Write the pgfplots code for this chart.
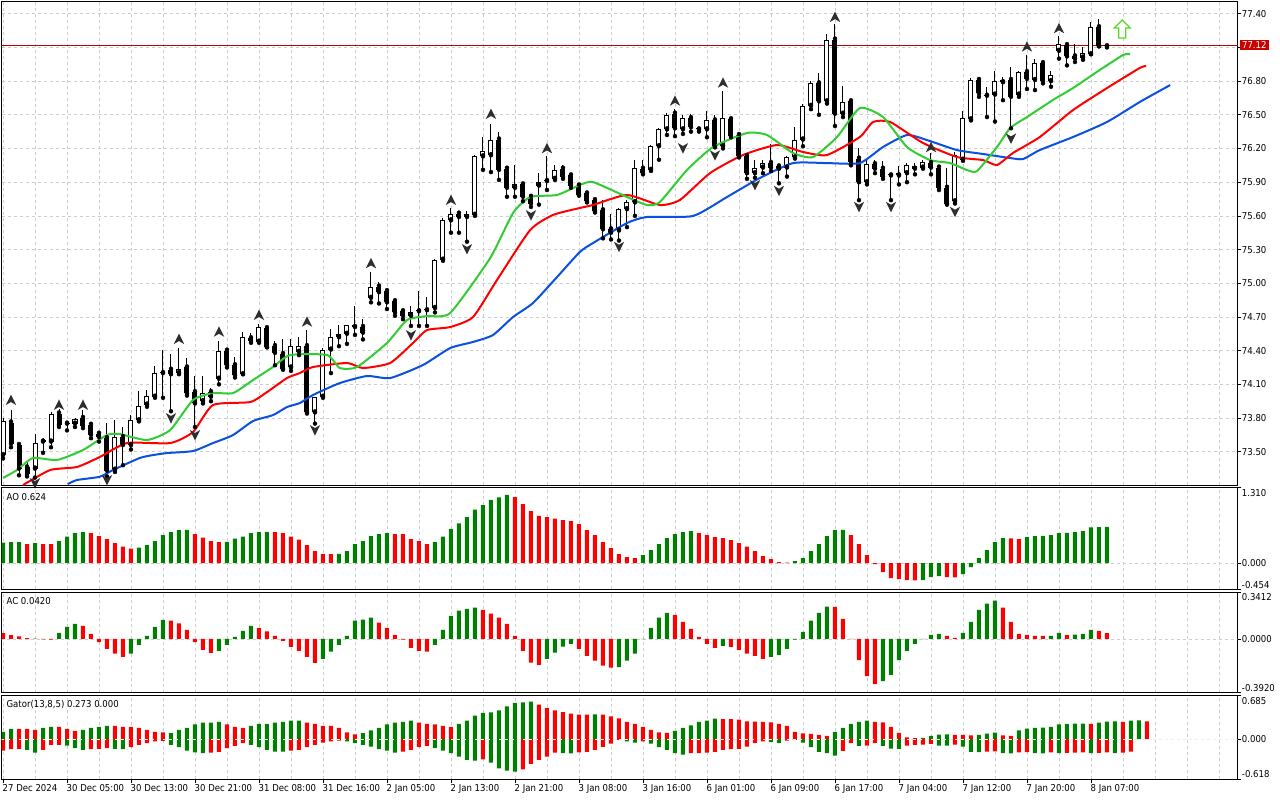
\documentclass[border=0pt]{standalone}
\usepackage{pgfplots}
\pgfplotsset{compat=1.18}
\usepackage{pgfplotstable}
\usepackage{fontspec}
\setmainfont{DejaVu Sans Condensed}
\definecolor{aored}{RGB}{255,0,0}
\definecolor{aogreen}{RGB}{0,128,0}
\definecolor{jawblue}{RGB}{10,80,225}
\definecolor{teethred}{RGB}{255,0,0}
\definecolor{lipsgreen}{RGB}{50,205,50}
\definecolor{gridgray}{RGB}{205,205,205}
\definecolor{bidred}{RGB}{190,0,0}
\definecolor{boxred}{RGB}{200,0,0}
\definecolor{arrowgreen}{RGB}{90,215,40}

\pgfdeclareplotmark{fup}{%
  \pgfpathmoveto{\pgfqpoint{0pt}{5.5pt}}%
  \pgfpathlineto{\pgfqpoint{5.2pt}{-5pt}}%
  \pgfpathlineto{\pgfqpoint{0pt}{-2pt}}%
  \pgfpathlineto{\pgfqpoint{-5.2pt}{-5pt}}%
  \pgfpathclose\pgfusepathqfill}
\pgfdeclareplotmark{fdn}{%
  \pgfpathmoveto{\pgfqpoint{0pt}{-5.5pt}}%
  \pgfpathlineto{\pgfqpoint{5.2pt}{5pt}}%
  \pgfpathlineto{\pgfqpoint{0pt}{2pt}}%
  \pgfpathlineto{\pgfqpoint{-5.2pt}{5pt}}%
  \pgfpathclose\pgfusepathqfill}
\pgfdeclareplotmark{sigup}{%
  \pgfpathmoveto{\pgfqpoint{0pt}{9pt}}%
  \pgfpathlineto{\pgfqpoint{8pt}{1pt}}%
  \pgfpathlineto{\pgfqpoint{3.5pt}{1pt}}%
  \pgfpathlineto{\pgfqpoint{3.5pt}{-9pt}}%
  \pgfpathlineto{\pgfqpoint{-3.5pt}{-9pt}}%
  \pgfpathlineto{\pgfqpoint{-3.5pt}{1pt}}%
  \pgfpathlineto{\pgfqpoint{-8pt}{1pt}}%
  \pgfpathclose\pgfusepathqfillstroke}

\pgfplotstableread{
i o h l c
0 73.47 73.80 73.44 73.77
1 73.76 73.87 73.54 73.57
2 73.56 73.58 73.29 73.35
3 73.36 73.41 73.28 73.30
4 73.35 73.66 73.27 73.58
5 73.59 73.62 73.49 73.60
6 73.59 73.85 73.54 73.84
7 73.84 73.88 73.72 73.74
8 73.75 73.77 73.69 73.75
9 73.75 73.80 73.72 73.79
10 73.80 73.87 73.71 73.73
11 73.74 73.75 73.62 73.65
12 73.66 73.68 73.59 73.63
13 73.62 73.76 73.28 73.33
14 73.34 73.78 73.32 73.63
15 73.63 73.72 73.38 73.56
16 73.56 73.83 73.52 73.78
17 73.78 74.04 73.77 73.91
18 73.92 74.05 73.90 74.00
19 73.99 74.26 73.98 74.20
20 74.20 74.41 73.98 74.21
21 74.23 74.37 73.86 74.19
22 74.20 74.42 74.19 74.24
23 74.25 74.33 74.00 74.02
24 74.03 74.17 73.72 73.93
25 73.95 74.17 73.93 74.02
26 74.03 74.07 73.95 73.99
27 74.15 74.49 74.10 74.40
28 74.40 74.41 74.25 74.27
29 74.27 74.34 74.16 74.18
30 74.19 74.57 74.19 74.52
31 74.51 74.56 74.47 74.49
32 74.48 74.64 74.47 74.61
33 74.60 74.61 74.43 74.43
34 74.44 74.49 74.27 74.38
35 74.37 74.50 74.23 74.24
36 74.25 74.50 74.22 74.44
37 74.39 74.52 74.36 74.44
38 74.44 74.58 73.84 73.85
39 73.85 73.99 73.75 73.99
40 73.99 74.42 73.98 74.41
41 74.41 74.59 74.20 74.52
42 74.52 74.63 74.44 74.55
43 74.55 74.63 74.46 74.63
44 74.61 74.80 74.54 74.63
45 74.61 74.68 74.50 74.56
46 74.87 75.10 74.83 74.97
47 74.97 75.01 74.82 74.92
48 74.93 74.94 74.77 74.83
49 74.84 74.85 74.71 74.74
50 74.75 74.76 74.68 74.71
51 74.71 74.80 74.62 74.74
52 74.75 74.93 74.62 74.76
53 74.76 74.88 74.62 74.77
54 74.78 75.22 74.74 75.21
55 75.21 75.58 75.20 75.56
56 75.56 75.67 75.45 75.62
57 75.62 75.64 75.45 75.59
58 75.59 75.64 75.37 75.62
59 75.61 76.14 75.60 76.13
60 76.13 76.30 76.01 76.18
61 76.14 76.42 75.99 76.28
62 76.28 76.35 75.92 76.01
63 76.02 76.03 75.77 75.85
64 75.85 76.05 75.77 75.88
65 75.88 75.89 75.73 75.77
66 75.77 75.78 75.68 75.71
67 75.87 75.98 75.70 75.90
68 75.91 76.13 75.83 75.92
69 75.93 76.05 75.92 76.01
70 76.02 76.05 75.93 75.95
71 75.96 75.98 75.85 75.87
72 75.87 75.89 75.78 75.79
73 75.80 75.82 75.72 75.73
74 75.74 75.76 75.63 75.64
75 75.65 75.74 75.40 75.48
76 75.48 75.62 75.39 75.45
77 75.47 75.67 75.38 75.66
78 75.66 75.74 75.50 75.72
79 75.72 76.10 75.60 76.03
80 76.02 76.10 75.97 75.98
81 76.01 76.23 76.00 76.22
82 76.22 76.38 76.10 76.37
83 76.37 76.52 76.32 76.50
84 76.51 76.55 76.31 76.38
85 76.37 76.50 76.33 76.47
86 76.47 76.51 76.35 76.39
87 76.37 76.39 76.35 76.37
88 76.37 76.53 76.30 76.45
89 76.45 76.50 76.21 76.22
90 76.22 76.71 76.20 76.47
91 76.46 76.47 76.30 76.31
92 76.32 76.34 76.12 76.13
93 76.13 76.14 75.93 75.98
94 75.98 76.10 75.94 76.03
95 76.03 76.10 75.98 76.07
96 76.07 76.24 76.00 76.03
97 76.04 76.06 75.89 76.02
98 76.03 76.13 75.95 76.12
99 76.12 76.39 76.11 76.28
100 76.28 76.60 76.22 76.58
101 76.58 76.80 76.55 76.78
102 76.78 76.87 76.50 76.62
103 76.62 77.22 76.60 77.17
104 77.17 77.31 76.40 76.51
105 76.51 76.76 76.48 76.61
106 76.62 76.63 76.05 76.08
107 76.11 76.20 75.74 75.90
108 75.90 76.11 75.88 76.06
109 76.06 76.10 75.98 76.02
110 76.02 76.09 75.93 75.95
111 75.96 75.97 75.74 75.96
112 75.96 76.04 75.88 75.98
113 75.98 76.07 75.90 76.05
114 76.02 76.07 75.97 76.04
115 76.03 76.10 76.02 76.08
116 76.07 76.16 75.97 76.03
117 76.03 76.04 75.83 75.85
118 75.85 76.03 75.70 75.71
119 75.73 76.17 75.71 76.14
120 76.10 76.53 76.09 76.47
121 76.46 76.83 76.45 76.81
122 76.81 76.83 76.66 76.69
123 76.67 76.75 76.48 76.67
124 76.68 76.89 76.44 76.80
125 76.79 76.84 76.63 76.81
126 76.81 76.93 76.38 76.66
127 76.68 76.89 76.66 76.88
128 76.88 77.03 76.73 76.82
129 76.81 77.00 76.72 76.96
130 76.96 76.98 76.78 76.80
131 76.80 76.89 76.75 76.85
132 77.07 77.20 77.00 77.13
133 77.12 77.12 76.94 77.02
134 77.02 77.13 76.97 77.00
135 77.01 77.10 76.99 77.05
136 77.04 77.33 77.04 77.28
137 77.28 77.35 77.11 77.11
138 77.11 77.13 77.10 77.12
}\candles

\pgfplotstableread{
x y
8.1 73.212
9.25 73.248
12.1 73.277
13.75 73.337
17.1 73.444
18.75 73.470
20.5 73.488
23.75 73.506
26.25 73.577
28.75 73.648
31.25 73.773
33.75 73.826
35.5 73.898
37.1 73.933
38.75 74.005
42.1 74.111
45.5 74.174
48.4 74.156
52.5 74.272
55.9 74.423
58.75 74.477
61.25 74.539
63.75 74.699
66.25 74.824
69.25 75.055
72.1 75.278
73.75 75.358
78 75.536
80.5 75.590
86.25 75.599
90.5 75.768
94.6 75.937
98.75 76.070
103 76.070
107.1 76.070
110 76.213
113 76.320
115.5 76.275
119.25 76.186
122.5 76.151
125.9 76.115
127.5 76.106
129.6 76.186
133.75 76.302
138 76.436
142.1 76.614
145.9 76.765
}\jaw

\pgfplotstableread{
x y
2.5 73.203
5.9 73.337
9.25 73.364
12.1 73.453
15.5 73.577
20.9 73.577
23.75 73.675
26.25 73.916
30.9 73.942
33 74.031
35.5 74.156
37.1 74.200
38.75 74.254
43 74.290
45 74.245
48.4 74.290
51.25 74.468
53 74.583
55.9 74.610
58.75 74.699
61.75 75.029
65.9 75.474
68.75 75.608
72.1 75.670
73.75 75.697
78 75.786
82.1 75.697
84.6 75.741
88.4 75.982
92.5 76.142
96.75 76.231
100 76.169
103 76.142
107.1 76.302
108.75 76.436
110.9 76.436
115 76.249
119.25 76.124
122.5 76.097
124.25 76.053
126.25 76.160
129.6 76.302
133.75 76.542
138 76.738
142.1 76.917
142.9 76.934
}\teeth

\pgfplotstableread{
x y
0 73.266
1.75 73.337
3.75 73.444
6.75 73.426
10 73.515
13 73.649
14.6 73.657
18 73.604
20.9 73.693
23.75 73.960
26.25 74.022
28.75 74.022
31.25 74.138
33.75 74.254
35.9 74.361
40.5 74.361
42.1 74.245
44.25 74.254
48 74.468
50.5 74.672
53 74.708
55.9 74.735
60.9 75.225
63.75 75.625
65.9 75.768
69.25 75.786
72.1 75.875
73.75 75.901
78 75.768
80.5 75.697
82.1 75.723
85.5 76.008
88.75 76.213
93 76.338
95.5 76.320
98.75 76.160
101.25 76.124
104.25 76.302
107.1 76.560
110 76.480
113 76.213
115.9 76.097
118.4 76.070
120.5 76.008
121.75 75.999
124.25 76.213
125.9 76.382
128 76.480
131.25 76.632
133.75 76.738
137.1 76.899
140 77.032
140.9 77.041
}\lips

\pgfplotstableread{
i y
1 73.960
7 73.916
10 73.916
22 74.503
27 74.568
32 74.717
38 74.657
46 75.177
56 75.741
61 76.507
68 76.201
84 76.625
90 76.785
104 77.370
116 76.210
128 77.106
132 77.270
}\fracup

\pgfplotstableread{
i y
4 73.221
13 73.248
21 73.800
24 73.649
39 73.693
51 74.539
58 75.305
66 75.607
77 75.325
85 76.204
89 76.140
94 75.875
97 75.824
107 75.681
111 75.681
119 75.637
126 76.290
}\fracdn

\pgfplotstableread{
i v c
0 0.352 1
1 0.364 1
2 0.364 1
3 0.329 0
4 0.346 1
5 0.329 0
6 0.329 0
7 0.381 1
8 0.456 1
9 0.519 1
10 0.537 1
11 0.519 0
12 0.467 0
13 0.415 0
14 0.346 0
15 0.283 0
16 0.248 0
17 0.265 1
18 0.312 1
19 0.381 1
20 0.485 1
21 0.537 1
22 0.571 1
23 0.573 1
24 0.502 0
25 0.438 0
26 0.381 0
27 0.364 0
28 0.366 1
29 0.421 1
30 0.456 1
31 0.519 1
32 0.537 1
33 0.539 1
34 0.537 0
35 0.519 0
36 0.456 0
37 0.404 0
38 0.312 0
39 0.208 0
40 0.156 0
41 0.155 0
42 0.157 1
43 0.208 1
44 0.329 1
45 0.381 1
46 0.467 1
47 0.502 1
48 0.519 1
49 0.502 0
50 0.500 0
51 0.415 0
52 0.381 0
53 0.329 0
54 0.364 1
55 0.456 1
56 0.589 1
57 0.687 1
58 0.796 1
59 0.923 1
60 1.004 1
61 1.091 1
62 1.137 1
63 1.177 1
64 1.142 0
65 1.021 0
66 0.900 0
67 0.814 0
68 0.796 0
69 0.767 0
70 0.744 0
71 0.727 0
72 0.675 0
73 0.571 0
74 0.485 0
75 0.364 0
76 0.260 0
77 0.156 0
78 0.104 0
79 0.087 0
80 0.138 1
81 0.225 1
82 0.329 1
83 0.433 1
84 0.502 1
85 0.537 1
86 0.554 1
87 0.519 0
88 0.485 0
89 0.450 0
90 0.433 0
91 0.398 0
92 0.346 0
93 0.283 0
94 0.208 0
95 0.121 0
96 0.069 0
97 0.017 0
98 0.006 0
99 0.035 1
100 0.087 1
101 0.208 1
102 0.329 1
103 0.467 1
104 0.571 1
105 0.573 1
106 0.485 0
107 0.329 0
108 0.138 0
109 -0.017 0
110 -0.156 0
111 -0.260 0
112 -0.277 0
113 -0.294 0
114 -0.300 0
115 -0.294 1
116 -0.242 1
117 -0.225 1
118 -0.242 0
119 -0.248 0
120 -0.190 1
121 -0.069 1
122 0.087 1
123 0.225 1
124 0.364 1
125 0.433 1
126 0.428 0
127 0.415 0
128 0.450 1
129 0.467 1
130 0.470 1
131 0.485 1
132 0.519 1
133 0.521 1
134 0.537 1
135 0.554 1
136 0.615 1
137 0.620 1
138 0.624 1
}\aodata

\pgfplotstableread{
i v c
0 0.041 0
1 0.027 0
2 0.019 0
3 0.005 0
4 0.002 1
5 -0.004 0
6 -0.005 0
7 0.044 1
8 0.088 1
9 0.110 1
10 0.095 0
11 0.037 0
12 -0.024 0
13 -0.073 0
14 -0.107 0
15 -0.132 0
16 -0.107 1
17 -0.044 1
18 0.022 1
19 0.088 1
20 0.139 1
21 0.132 0
22 0.112 0
23 0.066 0
24 -0.024 0
25 -0.080 0
26 -0.102 0
27 -0.088 1
28 -0.044 1
29 0.015 1
30 0.058 1
31 0.095 1
32 0.080 0
33 0.054 0
34 0.022 0
35 -0.015 0
36 -0.058 0
37 -0.088 0
38 -0.132 0
39 -0.175 0
40 -0.146 1
41 -0.093 1
42 -0.044 1
43 0.022 1
44 0.132 1
45 0.141 1
46 0.154 1
47 0.119 0
48 0.080 0
49 0.029 0
50 -0.005 0
51 -0.066 0
52 -0.088 0
53 -0.093 0
54 -0.044 1
55 0.066 1
56 0.168 1
57 0.205 1
58 0.219 1
59 0.227 1
60 0.212 0
61 0.183 0
62 0.154 0
63 0.110 0
64 0.022 0
65 -0.088 0
66 -0.173 0
67 -0.190 0
68 -0.146 1
69 -0.100 1
70 -0.056 1
71 -0.037 1
72 -0.073 0
73 -0.124 0
74 -0.158 0
75 -0.195 0
76 -0.210 0
77 -0.205 1
78 -0.158 1
79 -0.107 1
80 -0.002 1
81 0.080 1
82 0.154 1
83 0.190 1
84 0.175 0
85 0.124 0
86 0.073 0
87 0.015 0
88 -0.037 0
89 -0.066 0
90 -0.051 1
91 -0.058 0
92 -0.080 0
93 -0.107 0
94 -0.124 0
95 -0.146 0
96 -0.132 1
97 -0.117 1
98 -0.073 1
99 -0.005 1
100 0.051 1
101 0.132 1
102 0.190 1
103 0.234 1
104 0.233 0
105 0.146 0
106 -0.002 0
107 -0.154 0
108 -0.271 0
109 -0.329 0
110 -0.307 1
111 -0.263 1
112 -0.154 1
113 -0.088 1
114 -0.037 1
115 -0.002 1
116 0.029 1
117 0.037 1
118 0.022 0
119 0.007 0
120 0.044 1
121 0.124 1
122 0.212 1
123 0.256 1
124 0.278 1
125 0.227 0
126 0.124 0
127 0.037 0
128 0.029 0
129 0.022 0
130 0.021 0
131 0.022 1
132 0.044 1
133 0.029 0
134 0.030 1
135 0.037 1
136 0.066 1
137 0.058 0
138 0.042 0
}\acdata

\pgfplotstableread{
i v c
0 0.114 1
1 0.161 1
2 0.161 0
3 0.161 0
4 0.146 0
5 0.177 1
6 0.192 1
7 0.192 0
8 0.161 0
9 0.130 0
10 0.146 1
11 0.177 1
12 0.192 1
13 0.208 1
14 0.208 0
15 0.192 0
16 0.192 0
17 0.177 0
18 0.146 0
19 0.114 0
20 0.104 0
21 0.094 1
22 0.146 1
23 0.177 1
24 0.229 1
25 0.255 1
26 0.255 1
27 0.270 1
28 0.229 0
29 0.192 0
30 0.177 0
31 0.208 1
32 0.239 1
33 0.239 1
34 0.255 1
35 0.270 1
36 0.286 1
37 0.286 1
38 0.255 0
39 0.239 0
40 0.208 0
41 0.208 0
42 0.177 0
43 0.104 0
44 0.073 0
45 0.094 1
46 0.135 1
47 0.177 1
48 0.229 1
49 0.255 1
50 0.270 1
51 0.286 1
52 0.255 0
53 0.239 0
54 0.229 0
55 0.208 0
56 0.192 0
57 0.239 1
58 0.286 1
59 0.364 1
60 0.406 1
61 0.416 1
62 0.447 1
63 0.510 1
64 0.562 1
65 0.572 1
66 0.582 1
67 0.536 0
68 0.484 0
69 0.447 0
70 0.420 0
71 0.395 0
72 0.380 0
73 0.380 0
74 0.385 1
75 0.380 0
76 0.354 0
77 0.322 0
78 0.270 0
79 0.239 0
80 0.192 0
81 0.146 0
82 0.104 0
83 0.099 0
84 0.130 1
85 0.177 1
86 0.213 1
87 0.270 1
88 0.286 1
89 0.317 1
90 0.312 0
91 0.310 0
92 0.302 0
93 0.275 0
94 0.272 0
95 0.270 0
96 0.260 0
97 0.239 0
98 0.208 0
99 0.114 0
100 0.088 0
101 0.083 0
102 0.068 0
103 0.052 0
104 0.114 1
105 0.177 1
106 0.239 1
107 0.270 1
108 0.286 1
109 0.270 0
110 0.260 0
111 0.192 0
112 0.099 0
113 0.026 0
114 0.015 0
115 0.020 1
116 0.050 1
117 0.070 1
118 0.075 1
119 0.068 0
120 0.065 0
121 0.060 0
122 0.068 1
123 0.085 1
124 0.100 1
125 0.057 0
126 0.052 0
127 0.135 1
128 0.165 1
129 0.177 1
130 0.180 1
131 0.192 1
132 0.229 1
133 0.239 1
134 0.240 1
135 0.242 1
136 0.236 0
137 0.255 1
138 0.273 1
139 0.276 1
140 0.270 0
141 0.286 1
142 0.292 1
143 0.276 0
}\gup

\pgfplotstableread{
i v c
0 -0.177 0
1 -0.156 0
2 -0.151 0
3 -0.166 1
4 -0.208 1
5 -0.166 0
6 -0.088 0
7 -0.087 0
8 -0.099 1
9 -0.140 1
10 -0.166 1
11 -0.156 0
12 -0.151 0
13 -0.140 0
14 -0.151 1
15 -0.156 1
16 -0.125 0
17 -0.088 0
18 -0.062 0
19 -0.036 0
20 -0.026 0
21 -0.088 1
22 -0.125 1
23 -0.177 1
24 -0.203 1
25 -0.218 1
26 -0.208 0
27 -0.198 0
28 -0.140 0
29 -0.104 0
30 -0.062 0
31 -0.088 1
32 -0.125 1
33 -0.166 1
34 -0.192 1
35 -0.194 1
36 -0.177 0
37 -0.166 0
38 -0.125 0
39 -0.088 0
40 -0.052 0
41 -0.036 0
42 -0.021 0
43 -0.036 1
44 -0.062 1
45 -0.088 1
46 -0.114 1
47 -0.156 1
48 -0.177 1
49 -0.208 1
50 -0.192 0
51 -0.166 0
52 -0.125 0
53 -0.104 0
54 -0.140 1
55 -0.177 1
56 -0.218 1
57 -0.270 1
58 -0.322 1
59 -0.333 1
60 -0.312 0
61 -0.364 1
62 -0.452 1
63 -0.489 1
64 -0.504 1
65 -0.468 0
66 -0.385 0
67 -0.322 0
68 -0.270 0
69 -0.208 0
70 -0.218 1
71 -0.222 1
72 -0.203 0
73 -0.198 0
74 -0.166 0
75 -0.120 0
76 -0.068 0
77 -0.010 0
78 -0.036 1
79 -0.052 1
80 -0.036 0
81 -0.068 1
82 -0.125 1
83 -0.166 1
84 -0.218 1
85 -0.239 1
86 -0.218 0
87 -0.216 0
88 -0.208 0
89 -0.198 0
90 -0.166 0
91 -0.156 0
92 -0.150 0
93 -0.114 0
94 -0.062 0
95 -0.036 0
96 -0.042 1
97 -0.062 1
98 -0.021 0
99 -0.010 0
100 -0.052 1
101 -0.125 1
102 -0.198 1
103 -0.218 1
104 -0.255 1
105 -0.182 0
106 -0.062 0
107 -0.104 1
108 -0.099 0
109 -0.062 0
110 -0.104 1
111 -0.146 1
112 -0.150 1
113 -0.099 0
114 -0.088 0
115 -0.086 0
116 -0.073 0
117 -0.099 1
118 -0.101 1
119 -0.083 0
120 -0.114 1
121 -0.198 1
122 -0.200 1
123 -0.192 0
124 -0.190 0
125 -0.218 1
126 -0.220 1
127 -0.203 0
128 -0.201 0
129 -0.218 1
130 -0.220 1
131 -0.203 0
132 -0.218 1
133 -0.213 0
134 -0.208 0
135 -0.203 0
136 -0.218 1
137 -0.213 0
138 -0.203 0
139 -0.218 1
140 -0.208 0
141 -0.195 0
}\glo

\pgfplotsset{
  mtpanel/.style={
    scale only axis, width=1235.6pt, xmin=-0.1625, xmax=154.29,
    axis line style={black, line width=0.8pt},
    grid style={gridgray, dash pattern=on 3pt off 3pt, line width=0.6pt},
    xtick={0,4,...,152}, xticklabels={}, xmajorgrids,
    ytick pos=right, tick align=outside, major tick length=4pt,
    ytick style={draw=black, line width=0.6pt},
    tick label style={font=\fontsize{9.5}{11}\selectfont},
    yticklabel style={anchor=west, inner sep=0pt, xshift=0.4pt},
  },
  indbar/.style={ybar, bar width=4pt, bar shift=0pt, draw=none, forget plot},
  alli/.style={line width=2pt, line join=round, smooth, tension=0.35},
}

\begin{document}
\begin{tikzpicture}[font=\fontsize{9.5}{11}\selectfont]
\fill[white] (0,0) rectangle (1280pt,-800pt);
\path[use as bounding box] (0,0) rectangle (1280pt,-800pt);

% ---------- main price panel ----------
\begin{axis}[mtpanel, at={(1.7pt,-485pt)}, anchor=south west, height=483.3pt,
  xtick style={draw=none},
  ymin=73.2035, ymax=77.5071,
  ytick={73.5,73.8,74.1,74.4,74.7,75.0,75.3,75.6,75.9,76.2,76.5,76.8,77.1,77.4},
  yticklabels={73.50,73.80,74.10,74.40,74.70,75.00,75.30,75.60,75.90,76.20,76.50,76.80,,77.40},
  ymajorgrids]
\addplot[bidred, line width=0.8pt, forget plot] coordinates {(-1,77.12) (160,77.12)};
% wicks
\addplot[only marks, mark=none, forget plot, error bars/.cd, y dir=plus, y explicit,
  error mark=none, error bar style={black, line width=1pt}]
  table[x=i, y=l, y error plus expr={\thisrow{h}-\thisrow{l}}] \candles;
% bodies (outline / black)
\addplot[only marks, mark=none, forget plot, error bars/.cd, y dir=plus, y explicit,
  error mark=none, error bar style={black, line width=5pt}]
  table[x=i, y expr={min(\thisrow{o},\thisrow{c})}, y error plus expr={max(abs(\thisrow{c}-\thisrow{o}),0.0095)}] \candles;
% white interior for bullish candles
\addplot[only marks, mark=none, forget plot, error bars/.cd, y dir=plus, y explicit,
  error mark=none, error bar style={white, line width=3pt}]
  table[x=i, y expr={\thisrow{o}+0.0089}, y error plus expr={max(\thisrow{c}-\thisrow{o}-0.0178,0)}] \candles;
% alligator
\addplot[jawblue, alli] table[x=x,y=y] \jaw;
\addplot[teethred, alli] table[x=x,y=y] \teeth;
\addplot[lipsgreen, alli] table[x=x,y=y] \lips;
% fractals
\addplot[only marks, mark=fup, mark options={fill=black!82, draw=none}] table[x=i,y=y] \fracup;
\addplot[only marks, mark=fdn, mark options={fill=black!82, draw=none}] table[x=i,y=y] \fracdn;
% signal arrow
\addplot[only marks, mark=sigup, mark options={draw=arrowgreen, fill=white, line width=1.3pt}] coordinates {(139.9,77.264)};
\end{axis}

% ---------- AO ----------
\begin{axis}[mtpanel, at={(1.7pt,-589.3pt)}, anchor=south west, height=102pt,
  xtick style={draw=none},
  ymin=-0.454, ymax=1.310, ytick={-0.454,0,1.310}, yticklabels={,0.000,}]
\addplot[gridgray, dash pattern=on 3pt off 3pt, line width=0.6pt, forget plot] coordinates {(-1,0) (160,0)};
\addplot[indbar, fill=aogreen, restrict expr to domain={\thisrow{c}}{0.5:1.5}] table[x=i,y=v] \aodata;
\addplot[indbar, fill=aored, restrict expr to domain={\thisrow{c}}{-0.5:0.5}] table[x=i,y=v] \aodata;
\end{axis}

% ---------- AC ----------
\begin{axis}[mtpanel, at={(1.7pt,-692.7pt)}, anchor=south west, height=100.7pt,
  xtick style={draw=none},
  ymin=-0.3920, ymax=0.3412, ytick={-0.3920,0,0.3412}, yticklabels={,0.0000,}]
\addplot[gridgray, dash pattern=on 3pt off 3pt, line width=0.6pt, forget plot] coordinates {(-1,0) (160,0)};
\addplot[indbar, fill=aogreen, restrict expr to domain={\thisrow{c}}{0.5:1.5}] table[x=i,y=v] \acdata;
\addplot[indbar, fill=aored, restrict expr to domain={\thisrow{c}}{-0.5:0.5}] table[x=i,y=v] \acdata;
\end{axis}

% ---------- Gator ----------
\begin{axis}[mtpanel, at={(1.7pt,-779pt)}, anchor=south west, height=84pt,
  xtick={0,8,...,136},
  xticklabels={27 Dec 2024,30 Dec 05:00,30 Dec 13:00,30 Dec 21:00,31 Dec 08:00,31 Dec 16:00,2 Jan 05:00,2 Jan 13:00,2 Jan 21:00,3 Jan 08:00,3 Jan 16:00,6 Jan 01:00,6 Jan 09:00,6 Jan 17:00,7 Jan 04:00,7 Jan 12:00,7 Jan 20:00,8 Jan 07:00},
  xtick pos=bottom, xtick style={draw=black, line width=0.6pt},
  minor xtick={4,8,...,152}, xminorgrids, minor tick length=0pt,
  minor grid style={gridgray, dash pattern=on 3pt off 3pt, line width=0.6pt},
  xticklabel style={anchor=north west, inner sep=0pt, xshift=-0.5pt, yshift=-1pt},
  ymin=-0.618, ymax=0.685, ytick={-0.618,0,0.685}, yticklabels={,0.000,}]
\addplot[indbar, fill=aogreen, restrict expr to domain={\thisrow{c}}{0.5:1.5}] table[x=i,y=v] \gup;
\addplot[indbar, fill=aored, restrict expr to domain={\thisrow{c}}{-0.5:0.5}] table[x=i,y=v] \gup;
\addplot[indbar, fill=aogreen, restrict expr to domain={\thisrow{c}}{0.5:1.5}] table[x=i,y=v] \glo;
\addplot[indbar, fill=aored, restrict expr to domain={\thisrow{c}}{-0.5:0.5}] table[x=i,y=v] \glo;
\addplot[white!85!gray, dash pattern=on 3pt off 3pt, line width=0.7pt, forget plot] coordinates {(-1,0) (160,0)};
\end{axis}

% ---------- labels ----------
\node[anchor=west, inner sep=0pt] at (6.4pt,-496.7pt) {AO 0.624};
\node[anchor=west, inner sep=0pt] at (6.4pt,-601.5pt) {AC 0.0420};
\node[anchor=west, inner sep=0pt] at (6.4pt,-705pt) {Gator(13,8,5) 0.273 0.000};
\node[anchor=west, inner sep=0pt] at (1241.7pt,-492.7pt) {1.310};
\node[anchor=west, inner sep=0pt] at (1241.7pt,-585pt) {-0.454};
\node[anchor=west, inner sep=0pt] at (1241.7pt,-597.3pt) {0.3412};
\node[anchor=west, inner sep=0pt] at (1241.7pt,-688.3pt) {-0.3920};
\node[anchor=west, inner sep=0pt] at (1241.7pt,-700.7pt) {0.685};
\node[anchor=west, inner sep=0pt] at (1241.7pt,-774pt) {-0.618};
\node[anchor=west, fill=boxred, text=white, inner xsep=2.4pt, inner ysep=0pt, minimum height=10pt] at (1239.5pt,-45.3pt) {77.12};
\end{tikzpicture}
\end{document}
